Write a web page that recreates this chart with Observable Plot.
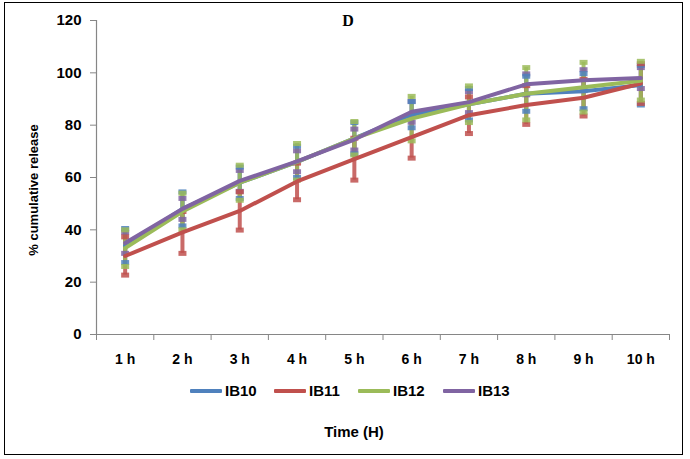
<!DOCTYPE html>
<html><head><meta charset="utf-8">
<script src="https://cdn.jsdelivr.net/npm/d3@7"></script>
<script src="https://cdn.jsdelivr.net/npm/@observablehq/plot@0.6"></script>
<style>
body{margin:0;background:#fff;font-family:"Liberation Sans",Arial,sans-serif;}
#wrap{position:relative;width:690px;height:459px;overflow:hidden;}
#frame{position:absolute;left:4px;top:2px;width:677px;height:451px;border:1.5px solid #000;}
#chart{position:absolute;left:0;top:0;}
.lab{position:absolute;font-weight:bold;color:#000;white-space:nowrap;}
.sw{position:absolute;height:4px;border-radius:1px;}
</style></head>
<body><div id="wrap"><div id="frame"></div><div id="chart"></div></div>
<script>
const times = ["1 h","2 h","3 h","4 h","5 h","6 h","7 h","8 h","9 h","10 h"];
const seriesNames = ["IB10","IB11","IB12","IB13"];
const colors = ["#4F81BD","#C0504D","#9BBB59","#8064A2"];
const IB10 = [34,48,58,66,75,84,88,92,93,95.3];
const IB10err = [6.5,6.5,6,6,6,5,6,6.7,6.7,7.6];
const IB11 = [30,39,47.2,58.5,67,75.4,83.8,87.7,90.5,95.9];
const IB11err = [7.3,8,7.3,7,8,8,7,7.4,7,7.6];
const IB12 = [33,47,58,66,75,82.5,88,92,94.5,97];
const IB12err = [7,7,6.7,7,6.4,8.5,7,10,9.5,7.4];
const IB13 = [35,48,58.7,66.2,74.5,85.1,88.8,95.6,97.2,98];
const IB13err = [4,4,4,4,4,4,4,4,4,4];
const yTicks = [0,20,40,60,80,100,120];

const vals = [IB10,IB11,IB12,IB13], errs=[IB10err,IB11err,IB12err,IB13err];
const rows = [];
seriesNames.forEach((s,k)=>times.forEach((t,i)=>rows.push({s, i:i+0.5, t, v:vals[k][i], e:errs[k][i], c:colors[k]})));
const barOrder = ["IB13","IB10","IB11","IB12"];
const barRows = barOrder.flatMap(s=>rows.filter(r=>r.s===s));
const capSymbol = {draw(ctx){ ctx.rect(-4,-2.5,8,5); }};

const H = 380;
const plot = Plot.plot({
  width:690, height:H,
  marginLeft:96, marginRight:21, marginTop:20, marginBottom:H-334,
  style:{fontFamily:"'Liberation Sans',Arial,sans-serif", fontWeight:"bold", color:"#000", background:"transparent"},
  x:{domain:[0,10], axis:null},
  y:{domain:[0,120], axis:null},
  marks:[
    Plot.ruleX(barRows,{x:"i", y1:d=>d.v-d.e, y2:d=>d.v+d.e, stroke:"c", strokeWidth:4, strokeOpacity:0.85}),
    Plot.dot(barRows,{x:"i", y:d=>d.v-d.e, symbol:capSymbol, r:3, fill:"c", fillOpacity:0.85, stroke:"none"}),
    Plot.dot(barRows,{x:"i", y:d=>d.v+d.e, symbol:capSymbol, r:3, fill:"c", fillOpacity:0.85, stroke:"none"}),
    Plot.axisY({ticks:yTicks, label:null, tickSize:6, tickPadding:9, fontSize:15, stroke:"#868686", tickFormat:d=>d}),
    Plot.ruleX([0],{stroke:"#868686", strokeWidth:1.2}),
    Plot.ruleY([0],{stroke:"#868686", strokeWidth:1.2}),
    Plot.axisX({ticks:d3.range(11), label:null, tickSize:6, tickFormat:()=>"", stroke:"#868686"}),
    Plot.axisX({ticks:times.map((t,i)=>i+0.5), label:null, tickSize:0, tickPadding:20, fontSize:14, tickFormat:d=>times[Math.round(d-0.5)]}),
    Plot.line(rows,{x:"i", y:"v", z:"s", stroke:"c", strokeWidth:4, strokeLinejoin:"round"})
  ]
});
document.getElementById("chart").appendChild(plot);

const wrap = document.getElementById("wrap");
function lab(txt, x, y, size, extra){
  const d=document.createElement("div"); d.className="lab"; d.textContent=txt;
  d.style.fontSize=size+"px"; d.style.left=x+"px"; d.style.top=y+"px";
  d.style.transform="translate(-50%,-50%)"+(extra||"");
  wrap.appendChild(d); return d;
}
const D = lab("D",348,21,16); D.style.fontFamily="'Liberation Serif','Times New Roman',serif";
lab("% cumulative release",33,190,13," rotate(-90deg)");
lab("Time (H)",354,431,15);
const swX=[190,274,358,443];
seriesNames.forEach((s,k)=>{
  const sw=document.createElement("div"); sw.className="sw";
  sw.style.left=swX[k]+"px"; sw.style.top="389px"; sw.style.width="32px"; sw.style.background=colors[k];
  wrap.appendChild(sw);
  const t=document.createElement("div"); t.className="lab"; t.textContent=s; t.style.fontSize="15px";
  t.style.left=(swX[k]+35)+"px"; t.style.top="382px";
  wrap.appendChild(t);
});
</script></body></html>
